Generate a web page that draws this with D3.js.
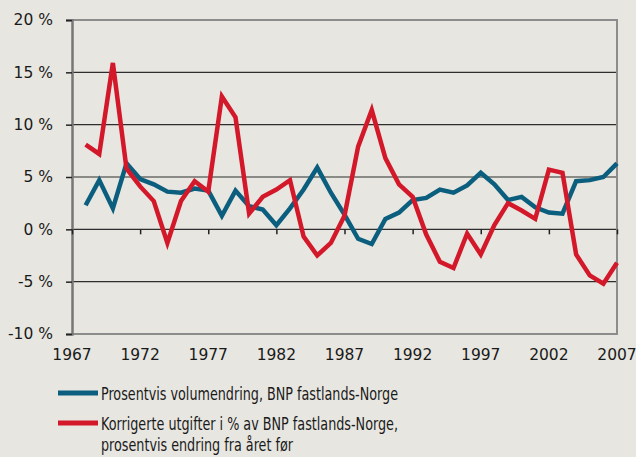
<!DOCTYPE html>
<html>
<head>
<meta charset="utf-8">
<script src="https://cdn.jsdelivr.net/npm/d3@7.9.0/dist/d3.min.js"></script>
<style>
  html, body { margin: 0; padding: 0; background: #e7e6e0; }
  svg { display: block; }
</style>
</head>
<body>
<svg id="chart" width="636" height="457"></svg>
<script>
// Years 1968-2007
const years = d3.range(1968, 2008);

// Prosentvis volumendring, BNP fastlands-Norge
const bnpVolume = [
  2.3, 4.7, 2.0, 6.3, 4.8, 4.3, 3.6, 3.5, 3.9, 3.7,
  1.3, 3.7, 2.2, 1.9, 0.4, 2.0, 3.8, 5.9, 3.5, 1.4,
  -0.9, -1.4, 1.0, 1.6, 2.8, 3.0, 3.8, 3.5, 4.2, 5.4,
  4.3, 2.8, 3.1, 2.1, 1.6, 1.5, 4.6, 4.7, 5.0, 6.3
];

// Korrigerte utgifter i % av BNP fastlands-Norge, prosentvis endring fra året før
const utgifter = [
  8.1, 7.2, 15.9, 5.8, 4.1, 2.7, -1.3, 2.7, 4.6, 3.6,
  12.7, 10.7, 1.5, 3.1, 3.8, 4.7, -0.7, -2.5, -1.3, 1.3,
  7.9, 11.4, 6.8, 4.3, 3.1, -0.5, -3.1, -3.7, -0.4, -2.4,
  0.4, 2.5, 1.8, 1.0, 5.7, 5.4, -2.4, -4.4, -5.2, -3.2
];

const xTicks = [1967, 1972, 1977, 1982, 1987, 1992, 1997, 2002, 2007];
const yTicks = [-10, -5, 0, 5, 10, 15, 20];

const legendLabels = [
  ['Prosentvis volumendring, BNP fastlands-Norge'],
  ['Korrigerte utgifter i % av BNP fastlands-Norge,', 'prosentvis endring fra året før']
];

const blue = '#0b5e7e';
const red = '#d3182a';

const svg = d3.select('#chart');
const m = { left: 72, right: 617, top: 20, bottom: 334 };

const x = d3.scaleLinear().domain([1967, 2007]).range([m.left, m.right]);
const y = d3.scaleLinear().domain([-10, 20]).range([m.bottom, m.top]);

// gridlines
svg.append('g')
  .selectAll('line')
  .data(yTicks.filter(d => d > -10 && d < 20))
  .join('line')
  .attr('x1', m.left).attr('x2', m.right)
  .attr('y1', d => y(d)).attr('y2', d => y(d))
  .attr('stroke', '#2e2e2e')
  .attr('stroke-width', 1.2);

// frame (top, right, bottom)
svg.append('path')
  .attr('d', `M${m.left},${m.top}H${m.right}V${m.bottom}H${m.left}`)
  .attr('fill', 'none')
  .attr('stroke', '#8c8c8c')
  .attr('stroke-width', 2);

// y axis
const yAxis = d3.axisLeft(y)
  .tickValues(yTicks)
  .tickSize(6)
  .tickPadding(13)
  .tickFormat(d => d + ' %');

svg.append('g')
  .attr('transform', `translate(${m.left},0)`)
  .call(yAxis)
  .call(g => g.select('.domain').attr('stroke', '#777').attr('stroke-width', 2.5))
  .call(g => g.selectAll('.tick line').attr('stroke', '#222').attr('stroke-width', 1.5))
  .call(g => g.selectAll('text')
    .attr('font-family', 'DejaVu Sans, Verdana, sans-serif')
    .attr('font-size', 15.5)
    .attr('fill', '#1a1a1a'));

// x ticks on zero line
const xAxis = d3.axisBottom(x)
  .tickValues(xTicks)
  .tickSize(5)
  .tickFormat(d3.format('d'));

svg.append('g')
  .attr('transform', `translate(0,${y(0)})`)
  .call(xAxis)
  .call(g => g.select('.domain').remove())
  .call(g => g.selectAll('.tick line').attr('stroke', '#222').attr('stroke-width', 1.5))
  .call(g => g.selectAll('text').remove());

// x labels below the plot
svg.append('g')
  .selectAll('text')
  .data(xTicks)
  .join('text')
  .attr('x', d => x(d))
  .attr('y', 360)
  .attr('text-anchor', 'middle')
  .attr('font-family', 'DejaVu Sans, Verdana, sans-serif')
  .attr('font-size', 15.5)
  .attr('fill', '#1a1a1a')
  .text(d => d);

// lines
const line = d3.line()
  .x((d, i) => x(years[i]))
  .y(d => y(d));

svg.append('path')
  .datum(bnpVolume)
  .attr('d', line)
  .attr('fill', 'none')
  .attr('stroke', blue)
  .attr('stroke-width', 4.5)
  .attr('stroke-linejoin', 'miter');

svg.append('path')
  .datum(utgifter)
  .attr('d', line)
  .attr('fill', 'none')
  .attr('stroke', red)
  .attr('stroke-width', 4.5)
  .attr('stroke-linejoin', 'miter');

// legend (condensed text, squeezed to the widths seen in the original)
const legendFont = '"DejaVu Sans Condensed", "Liberation Sans Narrow", sans-serif';
const legendRows = [
  { color: blue, lines: legendLabels[0], widths: [297], y: 393 },
  { color: red, lines: legendLabels[1], widths: [297, 192], y: 423 }
];

legendRows.forEach(row => {
  svg.append('line')
    .attr('x1', 58).attr('x2', 98)
    .attr('y1', row.y).attr('y2', row.y)
    .attr('stroke', row.color)
    .attr('stroke-width', 5);
  row.lines.forEach((t, i) => {
    svg.append('text')
      .attr('x', 101)
      .attr('y', row.y + 7 + i * 21)
      .attr('font-family', legendFont)
      .attr('font-size', 17)
      .attr('textLength', row.widths[i])
      .attr('lengthAdjust', 'spacingAndGlyphs')
      .attr('fill', '#1a1a1a')
      .text(t);
  });
});
</script>
</body>
</html>
